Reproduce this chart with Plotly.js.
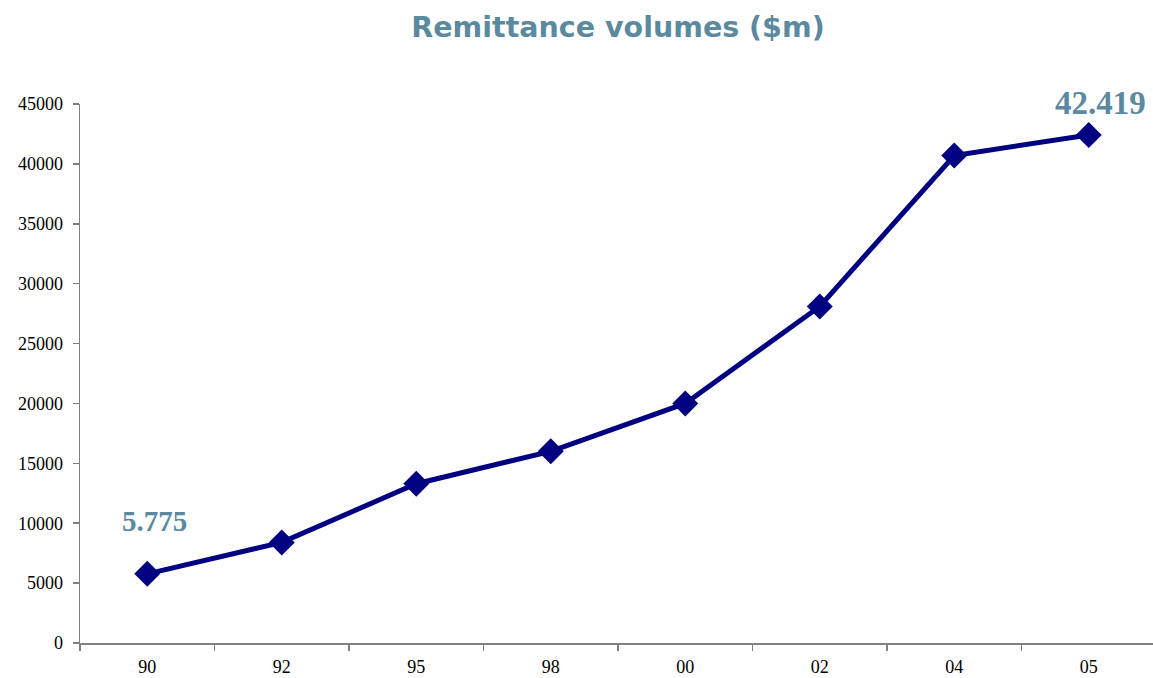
<!DOCTYPE html>
<html>
<head>
<meta charset="utf-8">
<script src="https://cdn.plot.ly/plotly-3.0.1.min.js"></script>
<style>
  html, body { margin: 0; padding: 0; overflow: hidden; background: #fff; }
  #chart { width: 1156px; height: 678px; }
</style>
</head>
<body>
<div id="chart"></div>
<script>
// Remittance volumes in millions of dollars, by year
const years = ['90', '92', '95', '98', '00', '02', '04', '05'];
const volumes = [5775, 8400, 13300, 16000, 20000, 28100, 40700, 42419];
const yTicks = [0, 5000, 10000, 15000, 20000, 25000, 30000, 35000, 40000, 45000];

const navy = '#000080';
const teal = '#5b8aa0';
const serif = 'Liberation Serif, Times New Roman, serif';

// thousands separator written as a dot, e.g. 42419 -> "42.419"
function dotted(v) {
  return String(v).replace(/\B(?=(\d{3})+(?!\d))/g, '.');
}

const first = 0;
const last = volumes.length - 1;

const trace = {
  type: 'scatter',
  mode: 'lines+markers',
  x: years,
  y: volumes,
  line: { color: navy, width: 5 },
  marker: { symbol: 'diamond', size: 20, color: navy },
  hoverinfo: 'x+y'
};

const layout = {
  width: 1156,
  height: 678,
  margin: { l: 80, r: 0, t: 104, b: 35 },
  paper_bgcolor: '#ffffff',
  plot_bgcolor: '#ffffff',
  showlegend: false,
  title: {
    text: 'Remittance volumes ($m)',
    font: { family: 'DejaVu Sans, Verdana, sans-serif', size: 28.5, color: teal, weight: 'bold' },
    x: 0.5, xref: 'paper', xanchor: 'center',
    y: 0.96, yref: 'container', yanchor: 'middle'
  },
  xaxis: {
    type: 'category',
    range: [-0.5, years.length - 0.5],
    tickson: 'boundaries',
    ticks: 'outside',
    ticklen: 6,
    tickcolor: '#808080',
    tickwidth: 1.5,
    showline: true,
    linecolor: '#808080',
    linewidth: 1.5,
    showgrid: false,
    zeroline: false,
    tickfont: { family: serif, size: 18, color: '#000' },
    ticklabelstandoff: 7
  },
  yaxis: {
    range: [0, 45000],
    tickvals: yTicks,
    ticktext: yTicks.map(String),
    ticks: 'outside',
    ticklen: 6,
    tickcolor: '#808080',
    tickwidth: 1.5,
    showline: true,
    linecolor: '#808080',
    linewidth: 1.5,
    showgrid: false,
    zeroline: false,
    tickfont: { family: serif, size: 18, color: '#000' },
    ticklabelstandoff: 6
  },
  annotations: [
    {
      x: first, y: volumes[first], xref: 'x', yref: 'y',
      text: dotted(volumes[first]), showarrow: false,
      xshift: 7, yshift: 53,
      font: { family: serif, size: 29, color: teal, weight: 'bold' }
    },
    {
      x: last, y: volumes[last], xref: 'x', yref: 'y',
      text: dotted(volumes[last]), showarrow: false,
      xshift: 12, yshift: 32,
      font: { family: serif, size: 33, color: teal, weight: 'bold' }
    }
  ]
};

Plotly.newPlot('chart', [trace], layout, { displayModeBar: false, staticPlot: true });
</script>
</body>
</html>
